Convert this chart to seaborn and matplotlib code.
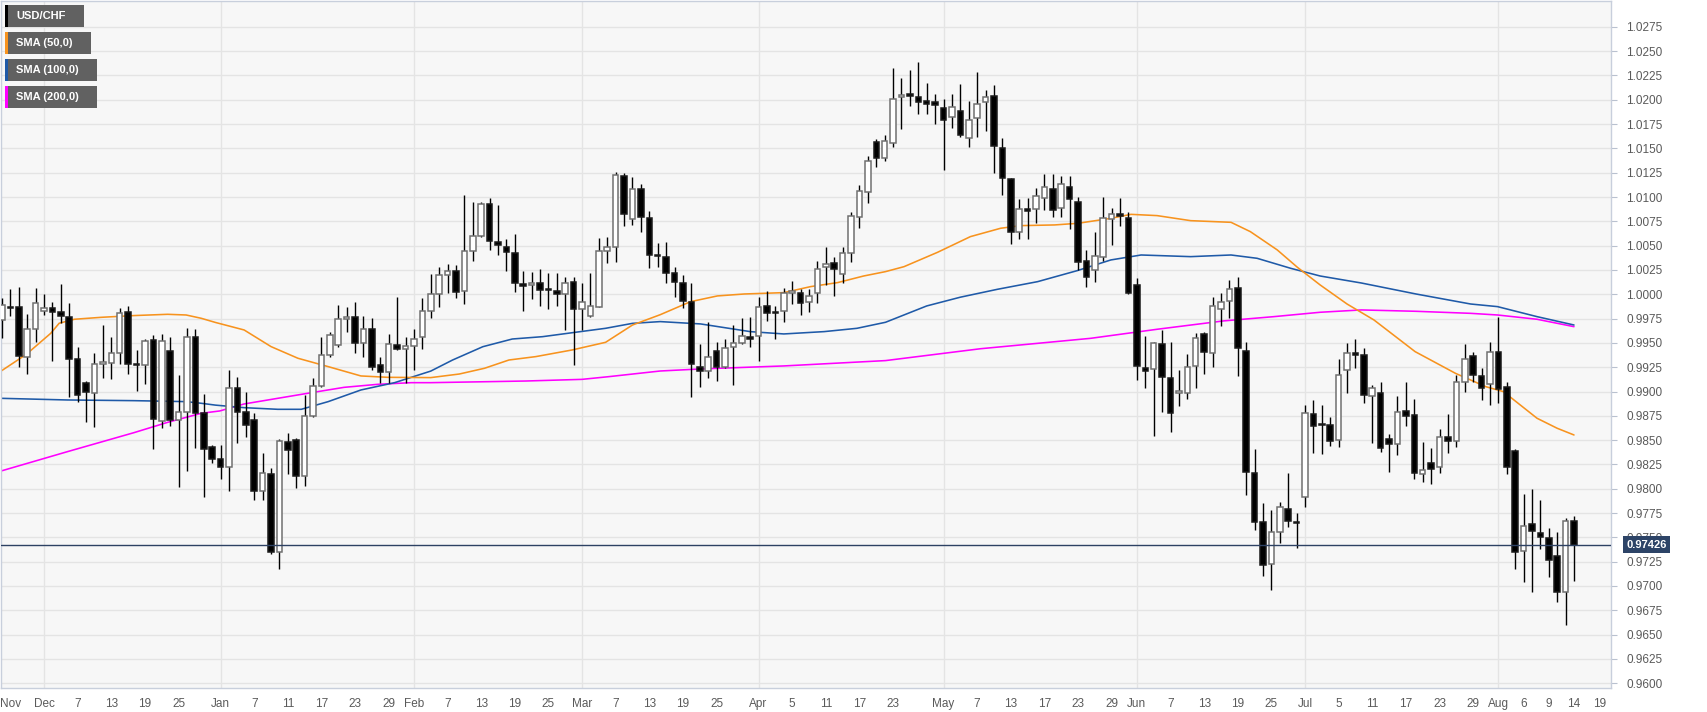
import numpy as np
import pandas as pd
import seaborn as sns
import matplotlib
matplotlib.use("Agg")
import matplotlib.pyplot as plt
from matplotlib.patches import Rectangle
from matplotlib.transforms import blended_transform_factory

# USD/CHF daily candles, weekdays from 26 Nov 2018 to 14 Aug 2019
opens = [
    0.99736, 0.99866, 0.99866, 0.99359, 0.99640, 0.99829, 0.99856, 0.99815, 0.99770, 0.99331,
    0.99091, 0.98989, 0.99280, 0.99297, 0.99393, 0.99822, 0.99280, 0.99270, 0.99530, 0.98701,
    0.99420, 0.98708, 0.98786, 0.99565, 0.98776, 0.98426, 0.98303, 0.98228, 0.99033, 0.98786,
    0.98707, 0.97981, 0.98152, 0.97353, 0.98485, 0.98502, 0.98131, 0.98749, 0.99057, 0.99372,
    0.99475, 0.99743, 0.99770, 0.99496, 0.99647, 0.99273, 0.99198, 0.99482, 0.99438, 0.99472,
    0.99558, 0.99828, 0.99999, 1.00195, 1.00243, 1.00034, 1.00449, 1.00603, 1.00925, 1.00538,
    1.00490, 1.00428, 1.00103, 1.00092, 1.00120, 1.00051, 1.00034, 0.99999, 1.00130, 0.99846,
    0.99777, 0.99873, 1.00445, 1.00483, 1.01217, 1.00778, 1.01079, 1.00781, 1.00401, 1.00387,
    1.00223, 1.00120, 0.99924, 0.99256, 0.99211, 0.99420, 0.99250, 0.99455, 0.99496, 0.99561,
    0.99571, 0.99880, 0.99821, 0.99832, 1.00010, 1.00017, 0.99924, 1.00010, 1.00281, 1.00319,
    1.00205, 1.00421, 1.00792, 1.01049, 1.01570, 1.01405, 1.01560, 1.02026, 1.02057, 1.02026,
    1.01985, 1.01978, 1.01916, 1.01820, 1.01889, 1.01604, 1.01810, 1.01974, 1.02040, 1.01501,
    1.01186, 1.00644, 1.00874, 1.00877, 1.00987, 1.01086, 1.00884, 1.01107, 1.00953, 1.00346,
    1.00250, 1.00380, 1.00774, 1.00822, 1.00781, 1.00096, 0.99246, 0.99229, 0.99489, 0.99136,
    0.98982, 0.98982, 0.99263, 0.99592, 0.99393, 0.99849, 0.99931, 1.00062, 0.99417, 0.98159,
    0.97662, 0.97223, 0.97552, 0.97792, 0.97662, 0.97919, 0.98766, 0.98666, 0.98656, 0.98502,
    0.99222, 0.99400, 0.99379, 0.98954, 0.98989, 0.98512, 0.98460, 0.98800, 0.98755, 0.98149,
    0.98269, 0.98221, 0.98536, 0.98488, 0.99095, 0.99366, 0.99163, 0.99074, 0.99403, 0.99043,
    0.98392, 0.97360, 0.97638, 0.97549, 0.97491, 0.97312, 0.96935, 0.97672,
]
highs = [
    0.99959, 1.00051, 1.00072, 0.99798, 1.00062, 1.00000, 0.99925, 1.00106, 0.99914, 0.99455,
    0.99109, 0.99400, 0.99681, 0.99558, 0.99856, 0.99880, 0.99427, 0.99544, 0.99582, 0.99592,
    0.99558, 0.99170, 0.99650, 0.99640, 0.98972, 0.98450, 0.98450, 0.99222, 0.99153, 0.98999,
    0.98776, 0.98365, 0.98210, 0.98509, 0.98571, 0.98519, 0.98965, 0.99136, 0.99558, 0.99616,
    0.99890, 0.99873, 0.99917, 0.99781, 0.99760, 0.99359, 0.99592, 0.99969, 0.99565, 0.99640,
    0.99958, 1.00210, 1.00284, 1.00308, 1.00301, 1.01021, 1.00946, 1.00946, 1.00994, 1.00918,
    1.00565, 1.00617, 1.00243, 1.00233, 1.00257, 1.00216, 1.00216, 1.00175, 1.00181, 1.00113,
    1.00216, 1.00576, 1.00586, 1.01261, 1.01244, 1.01210, 1.01134, 1.00857, 1.00531, 1.00541,
    1.00277, 1.00195, 1.00120, 0.99486, 0.99719, 0.99506, 0.99537, 0.99684, 0.99753, 0.99763,
    0.99976, 1.00034, 0.99883, 1.00065, 1.00140, 1.00051, 1.00051, 1.00346, 1.00483, 1.00380,
    1.00490, 1.00843, 1.01124, 1.01420, 1.01594, 1.01638, 1.02324, 1.02221, 1.02307, 1.02386,
    1.02170, 1.02060, 1.02005, 1.02060, 1.02163, 1.01988, 1.02283, 1.02101, 1.02149, 1.01604,
    1.01193, 1.00980, 1.00987, 1.01090, 1.01234, 1.01234, 1.01217, 1.01217, 1.01004, 1.00456,
    1.00644, 1.01004, 1.00884, 1.00994, 1.00850, 1.00171, 0.99575, 0.99513, 0.99633, 0.99513,
    0.99222, 0.99383, 0.99606, 0.99616, 0.99969, 1.00010, 1.00147, 1.00175, 0.99513, 0.98406,
    0.97850, 0.97782, 0.97868, 0.98159, 0.97754, 0.98862, 0.98913, 0.98862, 0.98735, 0.99331,
    0.99496, 0.99537, 0.99444, 0.99067, 0.99101, 0.98563, 0.98954, 0.99095, 0.98923, 0.98485,
    0.98423, 0.98611, 0.98766, 0.99170, 0.99486, 0.99403, 0.99239, 0.99513, 0.99763, 0.99102,
    0.98406, 0.97943, 0.97994, 0.97885, 0.97593, 0.97552, 0.97696, 0.97720,
]
lows = [
    0.99547, 0.99780, 0.99256, 0.99177, 0.99513, 0.99787, 0.99318, 0.99702, 0.98948, 0.98896,
    0.98690, 0.98639, 0.99136, 0.99126, 0.99283, 0.99177, 0.99006, 0.99078, 0.98406, 0.98622,
    0.98650, 0.98015, 0.98187, 0.98416, 0.97912, 0.98269, 0.98097, 0.97981, 0.98474, 0.98536,
    0.97885, 0.97885, 0.97329, 0.97171, 0.98152, 0.98011, 0.98028, 0.98742, 0.99050, 0.99359,
    0.99462, 0.99616, 0.99400, 0.99352, 0.99222, 0.99085, 0.99085, 0.99428, 0.99091, 0.99222,
    0.99438, 0.99753, 0.99866, 1.00010, 0.99959, 0.99897, 1.00343, 1.00593, 1.00456, 1.00404,
    1.00240, 1.00020, 0.99828, 0.99948, 0.99880, 0.99846, 0.99880, 0.99633, 0.99273, 0.99633,
    0.99770, 0.99866, 1.00319, 1.00336, 1.00703, 1.00713, 1.00644, 1.00267, 1.00284, 1.00113,
    0.99969, 0.99856, 0.98947, 0.99043, 0.99143, 0.99108, 0.99239, 0.99067, 0.99489, 0.99455,
    0.99318, 0.99729, 0.99537, 0.99712, 0.99900, 0.99787, 0.99815, 0.99914, 1.00096, 0.99983,
    1.00113, 1.00330, 1.00680, 1.00936, 1.01306, 1.01374, 1.01512, 1.01697, 1.01940, 1.01851,
    1.01854, 1.01752, 1.01278, 1.01707, 1.01621, 1.01518, 1.01614, 1.01683, 1.01244, 1.01021,
    1.00517, 1.00565, 1.00565, 1.00730, 1.00867, 1.00799, 1.00799, 1.00668, 1.00250, 1.00079,
    1.00130, 1.00343, 1.00507, 1.00703, 1.00003, 0.99119, 0.99033, 0.98546, 0.98793, 0.98587,
    0.98855, 0.98920, 0.99033, 0.99177, 0.99256, 0.99674, 0.99753, 0.99163, 0.97936, 0.97576,
    0.97106, 0.96959, 0.97440, 0.97610, 0.97388, 0.97816, 0.98365, 0.98354, 0.98440, 0.98433,
    0.98989, 0.99239, 0.98880, 0.98474, 0.98375, 0.98176, 0.98347, 0.98649, 0.98097, 0.98066,
    0.98046, 0.98159, 0.98365, 0.98433, 0.98999, 0.99102, 0.98913, 0.98862, 0.98879, 0.98152,
    0.97172, 0.97038, 0.96935, 0.97377, 0.97096, 0.96832, 0.96599, 0.97055,
]
closes = [
    0.99890, 0.99862, 0.99366, 0.99640, 0.99907, 0.99856, 0.99818, 0.99781, 0.99335, 0.98965,
    0.98999, 0.99280, 0.99307, 0.99400, 0.99805, 0.99280, 0.99273, 0.99523, 0.98714, 0.99520,
    0.98708, 0.98786, 0.99565, 0.98776, 0.98406, 0.98303, 0.98221, 0.99033, 0.98793, 0.98656,
    0.97981, 0.98159, 0.97353, 0.98492, 0.98400, 0.98131, 0.98749, 0.99057, 0.99372, 0.99582,
    0.99746, 0.99770, 0.99496, 0.99647, 0.99256, 0.99198, 0.99490, 0.99438, 0.99472, 0.99541,
    0.99828, 1.00003, 1.00199, 1.00243, 1.00027, 1.00449, 1.00603, 1.00925, 1.00548, 1.00504,
    1.00435, 1.00113, 1.00086, 1.00120, 1.00044, 1.00044, 0.99999, 1.00120, 0.99849, 0.99924,
    0.99880, 1.00445, 1.00483, 1.01227, 1.00826, 1.01079, 1.00792, 1.00401, 1.00394, 1.00223,
    1.00130, 0.99935, 0.99280, 0.99211, 0.99352, 0.99256, 0.99451, 0.99503, 0.99575, 0.99544,
    0.99873, 0.99804, 0.99804, 1.00017, 1.00031, 0.99914, 0.99986, 1.00264, 1.00312, 1.00257,
    1.00421, 1.00809, 1.01066, 1.01370, 1.01405, 1.01580, 1.02012, 1.02050, 1.02043, 1.01981,
    1.01957, 1.01943, 1.01793, 1.01930, 1.01638, 1.01793, 1.01954, 1.02033, 1.01525, 1.01193,
    1.00644, 1.00877, 1.00857, 1.01011, 1.01100, 1.00867, 1.01131, 1.00977, 1.00336, 1.00181,
    1.00397, 1.00788, 1.00822, 1.00809, 1.00010, 0.99263, 0.99215, 0.99496, 0.99153, 0.98783,
    0.99009, 0.99249, 0.99554, 0.99410, 0.99883, 0.99924, 1.00051, 0.99444, 0.98176, 0.97662,
    0.97216, 0.97559, 0.97816, 0.97669, 0.97645, 0.98776, 0.98649, 0.98656, 0.98495, 0.99170,
    0.99393, 0.99372, 0.98965, 0.99033, 0.98423, 0.98460, 0.98793, 0.98752, 0.98159, 0.98193,
    0.98200, 0.98529, 0.98492, 0.99095, 0.99331, 0.99168, 0.99033, 0.99403, 0.99023, 0.98227,
    0.97353, 0.97621, 0.97566, 0.97501, 0.97268, 0.96942, 0.97672, 0.97426,
]
last_price = 0.97426

# moving averages (candle index, value)
sma50_x = [-0.1, 2.9, 5.8, 6.8, 8.6, 11.8, 15.7, 19.7, 21.9, 23.7, 25.4, 28.8, 32.0, 35.2, 38.8,
           42.7, 45.9, 51.0, 54.4, 57.4, 60.3, 63.5, 67.8, 71.8, 75.0, 78.3, 81.9, 85.1, 88.3,
           93.0, 96.2, 99.4, 102.5, 105.1, 107.3, 111.3, 115.2, 118.8, 121.2, 125.2, 128.0,
           131.9, 134.3, 137.4, 141.4, 146.2, 148.5, 151.7, 154.1, 156.8, 160.0, 163.2, 168.1,
           172.9, 176.5, 178.6, 182.6, 185.0, 187.0]
sma50_y = [0.99211, 0.99383, 0.99599, 0.99702, 0.99743, 0.99763, 0.99781, 0.99794, 0.99787,
           0.99753, 0.99710, 0.99633, 0.99462, 0.99342, 0.99256, 0.99160, 0.99146, 0.99143,
           0.99180, 0.99239, 0.99324, 0.99359, 0.99427, 0.99506, 0.99684, 0.99790, 0.99924,
           0.99983, 1.00003, 1.00017, 1.00079, 1.00120, 1.00188, 1.00233, 1.00284, 1.00432,
           1.00593, 1.00679, 1.00706, 1.00713, 1.00730, 1.00781, 1.00822, 1.00809, 1.00757,
           1.00740, 1.00644, 1.00456, 1.00277, 1.00096, 0.99900, 0.99736, 0.99410, 0.99187,
           0.99050, 0.98999, 0.98725, 0.98622, 0.98553]
sma100_x = [-0.1, 7.8, 15.7, 21.9, 23.7, 25.4, 28.8, 32.8, 35.6, 38.8, 42.7, 46.7, 51.0, 53.6,
            57.2, 60.7, 64.3, 68.2, 71.8, 75.0, 78.3, 83.1, 89.0, 93.0, 97.8, 101.7, 105.1,
            110.0, 114.0, 118.4, 123.2, 127.9, 131.9, 135.5, 141.4, 146.2, 149.3, 153.3,
            156.8, 161.7, 168.2, 174.7, 177.9, 182.6, 187.0]
sma100_y = [0.98930, 0.98913, 0.98906, 0.98896, 0.98879, 0.98860, 0.98834, 0.98817, 0.98817,
            0.98896, 0.99016, 0.99091, 0.99210, 0.99324, 0.99461, 0.99540, 0.99564, 0.99609,
            0.99650, 0.99701, 0.99719, 0.99695, 0.99616, 0.99592, 0.99616, 0.99650, 0.99712,
            0.99880, 0.99970, 1.00051, 1.00130, 1.00243, 1.00353, 1.00404, 1.00387, 1.00404,
            1.00370, 1.00267, 1.00188, 1.00116, 1.00003, 0.99900, 0.99873, 0.99770, 0.99684]
sma200_x = [-0.1, 7.8, 15.7, 19.7, 23.7, 25.9, 28.8, 32.8, 36.8, 40.7, 44.7, 48.7, 51.0, 62.3,
            69.0, 72.2, 78.3, 83.1, 93.0, 105.1, 116.4, 129.5, 137.4, 145.3, 151.3, 156.8,
            161.7, 168.2, 174.7, 177.9, 182.6, 187.0]
sma200_y = [0.98183, 0.98382, 0.98577, 0.98683, 0.98776, 0.98800, 0.98872, 0.98930, 0.98988,
            0.99043, 0.99074, 0.99091, 0.99091, 0.99108, 0.99125, 0.99153, 0.99211, 0.99232,
            0.99263, 0.99318, 0.99440, 0.99547, 0.99640, 0.99726, 0.99770, 0.99815, 0.99839,
            0.99825, 0.99804, 0.99787, 0.99743, 0.99667]

tick_dates = ["2018-11-27", "2018-12-03", "2018-12-07", "2018-12-13", "2018-12-19", "2018-12-25",
              "2019-01-01", "2019-01-07", "2019-01-11", "2019-01-17", "2019-01-23", "2019-01-29",
              "2019-02-01", "2019-02-07", "2019-02-13", "2019-02-19", "2019-02-25",
              "2019-03-01", "2019-03-07", "2019-03-13", "2019-03-19", "2019-03-25",
              "2019-04-01", "2019-04-05", "2019-04-11", "2019-04-17", "2019-04-23",
              "2019-05-01", "2019-05-07", "2019-05-13", "2019-05-17", "2019-05-23", "2019-05-29",
              "2019-06-03", "2019-06-07", "2019-06-13", "2019-06-19", "2019-06-25",
              "2019-07-01", "2019-07-05", "2019-07-11", "2019-07-17", "2019-07-23", "2019-07-29",
              "2019-08-01", "2019-08-06", "2019-08-09", "2019-08-14", "2019-08-19"]
tick_labels = ["Nov", "Dec", "7", "13", "19", "25", "Jan", "7", "11", "17", "23", "29",
               "Feb", "7", "13", "19", "25", "Mar", "7", "13", "19", "25", "Apr", "5", "11", "17", "23",
               "May", "7", "13", "17", "23", "29", "Jun", "7", "13", "19", "25",
               "Jul", "5", "11", "17", "23", "29", "Aug", "6", "9", "14", "19"]
month_starts = ["2018-12-03", "2019-01-01", "2019-02-01", "2019-03-01", "2019-04-01",
                "2019-05-01", "2019-06-03", "2019-07-01", "2019-08-01"]

legend_labels = ["USD/CHF", "SMA (50,0)", "SMA (100,0)", "SMA (200,0)"]
legend_colors = ["#000000", "#f7931e", "#1f5aa8", "#ff00ff"]

sns.set_style("white")
plt.rcParams["font.family"] = ["Liberation Sans", "DejaVu Sans"]

dates = pd.bdate_range("2018-11-26", periods=195)
pos = np.arange(len(opens))
o = np.array(opens); h = np.array(highs); l = np.array(lows); c = np.array(closes)
up = c >= o

W, H = 1707, 712
fig = plt.figure(figsize=(W / 100, H / 100), dpi=100)
fig.patch.set_facecolor("white")
ax = fig.add_axes([1 / W, 24 / H, 1610 / W, 687 / H])
ax.set_facecolor("#f7f7f7")

ax.set_xlim(-0.12, 191.4)
ax.set_ylim(0.95951, 1.03016)

# grid
yt = np.round(np.arange(0.9600, 1.02751, 0.0025), 4)
for v in yt:
    ax.axhline(v, color="#e4e4e4", lw=1, zorder=0)
for d in dates.get_indexer(pd.to_datetime(month_starts)):
    ax.axvline(d, color="#e4e4e4", lw=1, zorder=0)

# moving averages
sns.lineplot(x=sma200_x, y=sma200_y, ax=ax, color=legend_colors[3], linewidth=1.15, zorder=2)
sns.lineplot(x=sma100_x, y=sma100_y, ax=ax, color=legend_colors[2], linewidth=1.15, zorder=2)
sns.lineplot(x=sma50_x, y=sma50_y, ax=ax, color=legend_colors[1], linewidth=1.15, zorder=2)

# candles
ax.vlines(pos, l, h, color="black", lw=1.0, zorder=3)
body_h = np.maximum(np.abs(c - o), 0.00004)
body_b = np.minimum(o, c)
ax.bar(pos[up], body_h[up], bottom=body_b[up], width=0.66, color="white",
       edgecolor="#707070", linewidth=1.1, zorder=4)
ax.bar(pos[~up], body_h[~up], bottom=body_b[~up], width=0.66, color="black",
       edgecolor="#1a1a1a", linewidth=1.1, zorder=4)

# last price line and tag
ax.axhline(last_price, color="#2d4163", lw=1, zorder=5)
tr = blended_transform_factory(ax.transAxes, ax.transData)
ax.text(1.0095, last_price, f"{last_price:.5f}", transform=tr, ha="left", va="center",
        color="white", fontsize=8, fontweight="bold", zorder=10, clip_on=False,
        bbox=dict(boxstyle="square,pad=0.3", fc="#2d4467", ec="none"))

# axes styling
ax.yaxis.tick_right()
ax.set_yticks(yt)
ax.set_yticklabels([f"{v:.4f}" for v in yt])
ax.tick_params(axis="y", length=4, pad=7, labelsize=8.5, colors="#5a5a5a", color="#b9c1cf")
tpos = dates.get_indexer(pd.to_datetime(tick_dates))
ax.set_xticks(tpos)
ax.set_xticklabels(tick_labels)
ax.tick_params(axis="x", length=4, pad=3, labelsize=8.5, colors="#5a5a5a", color="#b9c1cf")
for lbl in ax.get_xticklabels():
    lbl.set_family(["Liberation Sans Narrow", "Liberation Sans", "DejaVu Sans"])
for s in ax.spines.values():
    s.set_color("#c8cfdc")
    s.set_linewidth(1)
ax.set_xlabel("")
ax.set_ylabel("")

# legend boxes at top left
box_w = [76, 83, 89, 89]
for k, (lab, col) in enumerate(zip(legend_labels, legend_colors)):
    top = 5 + 27 * k
    fig.add_artist(Rectangle((5 / W, 1 - (top + 22) / H), 2.5 / W, 22 / H,
                             transform=fig.transFigure, fc=col, ec="none", zorder=20))
    fig.add_artist(Rectangle((7.5 / W, 1 - (top + 22) / H), box_w[k] / W, 22 / H,
                             transform=fig.transFigure, fc="#616161", ec="none", zorder=20))
    fig.text(16.5 / W, 1 - (top + 11) / H, lab, color="white", fontsize=8,
             fontweight="bold", ha="left", va="center", zorder=21)

fig.savefig("out.png", dpi=100)
